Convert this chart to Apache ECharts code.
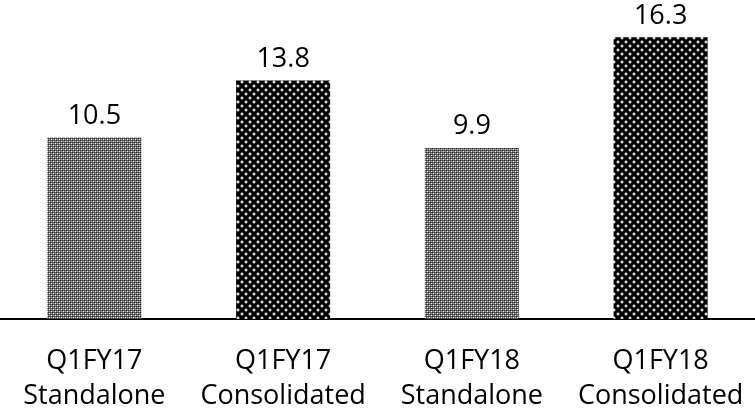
<!DOCTYPE html>
<html><head><meta charset="utf-8">
<script src="https://cdn.jsdelivr.net/npm/echarts@6/dist/echarts.min.js"></script>
<style>html,body{margin:0;padding:0;background:#fff}#c{width:755px;height:410px}</style>
</head><body><div id="c"></div>
<script>
const categories = ['Q1FY17\nStandalone', 'Q1FY17\nConsolidated', 'Q1FY18\nStandalone', 'Q1FY18\nConsolidated'];
const values = [10.5, 13.8, 9.9, 16.3];
const patternKinds = ['gray', 'dark', 'gray', 'dark'];

function grayTile() {
  const c = document.createElement('canvas'); c.width = 4; c.height = 4;
  const g = c.getContext('2d');
  const px = [
    [35, 95, 60, 95],
    [120, 240, 120, 165],
    [60, 95, 35, 95],
    [120, 165, 120, 240]
  ];
  for (let y = 0; y < 4; y++) for (let x = 0; x < 4; x++) {
    const v = px[y][x];
    g.fillStyle = 'rgb(' + v + ',' + v + ',' + v + ')';
    g.fillRect(x, y, 1, 1);
  }
  return c;
}
function darkTile() {
  const c = document.createElement('canvas'); c.width = 8; c.height = 8;
  const g = c.getContext('2d');
  g.fillStyle = '#000'; g.fillRect(0, 0, 8, 8);
  function dot(x, y) {
    g.fillStyle = '#4a4a4a'; g.fillRect(x - 1, y, 4, 2); g.fillRect(x, y - 1, 2, 4);
    g.fillStyle = '#dcdcdc'; g.fillRect(x, y, 2, 2);
  }
  dot(1, 1); dot(5, 5);
  return c;
}
const patterns = { gray: { image: grayTile(), repeat: 'repeat' }, dark: { image: darkTile(), repeat: 'repeat' } };

const font = 'Open Sans';
const chart = echarts.init(document.getElementById('c'));
chart.setOption({
  animation: false,
  grid: { left: 0, right: 0, top: 8, bottom: 91, containLabel: false, outerBoundsMode: 'none' },
  xAxis: {
    type: 'category', data: categories,
    axisLine: { lineStyle: { color: '#000', width: 2 } },
    axisTick: { show: false },
    axisLabel: { color: '#000', fontFamily: font, fontSize: 27, lineHeight: 35, margin: 25, interval: 0 }
  },
  yAxis: { type: 'value', min: 0, max: 18, show: false, splitLine: { show: false } },
  series: [{
    type: 'bar', barWidth: 94,
    data: values.map((v, i) => ({ value: v, itemStyle: { color: patterns[patternKinds[i]] } })),
    label: { show: true, position: 'top', distance: 8, color: '#000', fontFamily: font, fontSize: 27,
      formatter: p => p.value.toFixed(1) }
  }]
});
</script></body></html>
